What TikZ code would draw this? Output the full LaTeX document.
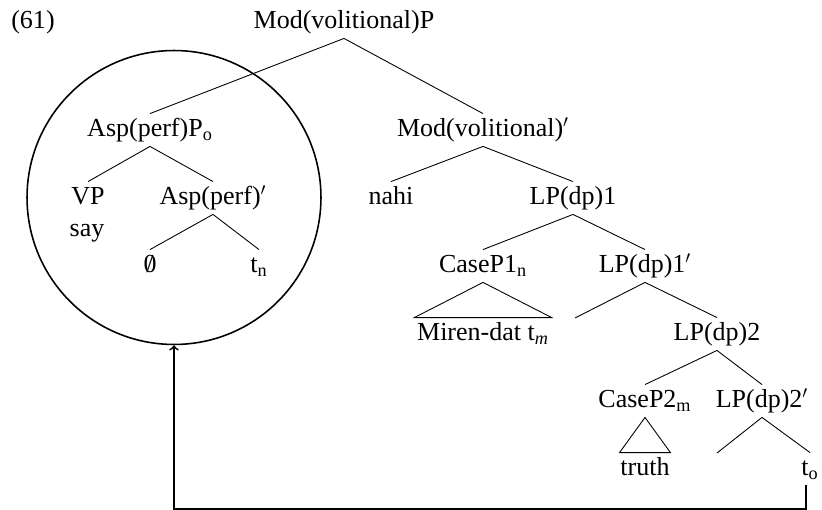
\documentclass[tikz,border=0pt]{standalone}
\usepackage{fontspec}
\setmainfont{Liberation Serif}
\newcommand{\nullhead}{\ooalign{0\cr\hfil/\hfil\cr}}

\begin{document}
\begin{tikzpicture}[x=0.02cm,y=-0.02cm,
  font=\fontsize{14.8}{17.8}\selectfont,
  cat/.style={inner xsep=1pt,inner ysep=2.4pt,text height=10.5pt,text depth=3pt},
  branch/.style={line width=0.5pt},
  ring/.style={draw,circle,line width=0.9pt,minimum size=5.88cm,inner sep=0pt},
  move/.style={line width=1pt,->}]
\useasboundingbox (0,0) rectangle (822,510);

% categories, row by row
\node[cat] (ex) at (33,22) {(61)};
\node[cat] (top) at (344,22) {Mod(volitional)P};

\node[cat] (asp) at (150,130) {Asp(perf)P\textsubscript{o}};
\node[cat] (modbar) at (483,130) {Mod(volitional)$'$};

\node[cat] (vp) at (88,198) {VP};
\node[cat] (say) at (87,230) {say};
\node[cat] (aspbar) at (213,198) {Asp(perf)$'$};
\node[cat] (nahi) at (391,198) {nahi};
\node[cat] (lp1) at (573,198) {LP(dp)1};

\node[cat] (empty) at (150,266) {\nullhead};
\node[cat] (tn) at (259,266) {t\textsubscript{n}};
\node[cat] (case1) at (483,266) {CaseP1\textsubscript{n}};
\node[cat] (lp1bar) at (645,266) {LP(dp)1$'$};

\node[cat,inner xsep=1.4pt] (miren) at (483,334) {Miren-dat t\textsubscript{\textit{m}}};
\coordinate (gap1) at (575,318);
\node[cat] (lp2) at (717,334) {LP(dp)2};

\node[cat] (case2) at (645,401) {CaseP2\textsubscript{m}};
\node[cat] (lp2bar) at (762,401) {LP(dp)2$'$};

\node[cat,inner xsep=0.3pt] (truth) at (645,469) {truth};
\coordinate (gap2) at (717,453);
\node[cat] (to) at (810,469) {t\textsubscript{o}};

% branches
\foreach \a/\b in {top/asp,top/modbar,asp/vp,asp/aspbar,aspbar/empty,aspbar/tn,
  modbar/nahi,modbar/lp1,lp1/case1,lp1/lp1bar,lp1bar/lp2,lp2/case2,lp2/lp2bar,lp2bar/to}
  \draw[branch] (\a.south) -- (\b.north);
\draw[branch] (lp1bar.south) -- (gap1);
\draw[branch] (lp2bar.south) -- (gap2);

% triangles
\draw[branch] (case1.south) -- (miren.north west) -- (miren.north east) -- cycle;
\draw[branch] (case2.south) -- (truth.north west) -- (truth.north east) -- cycle;

% circled constituent and movement
\node[ring] (ring) at (174,197.5) {};
\coordinate (floor) at (0,509);
\coordinate (drop) at ([xshift=-0.08cm]to.south);
\draw[move] (drop) -- (drop |- floor) -| (ring.south);
\end{tikzpicture}
\end{document}
